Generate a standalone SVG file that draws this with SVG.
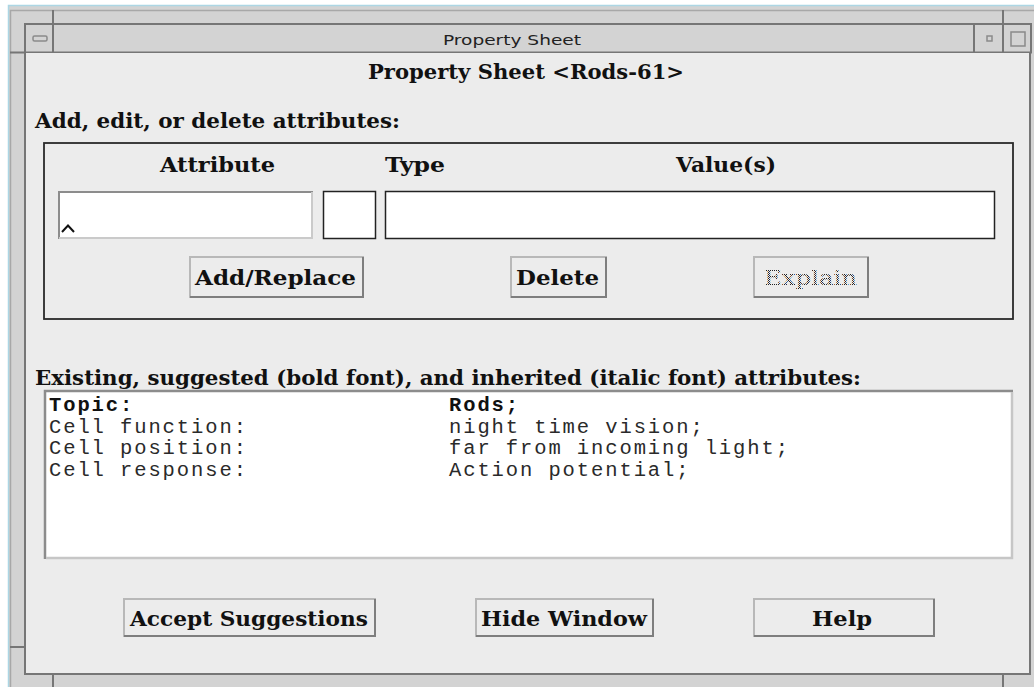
<svg xmlns="http://www.w3.org/2000/svg" width="1034" height="687" viewBox="0 0 1034 687">
<defs>
<pattern id="stipple" width="2" height="2" patternUnits="userSpaceOnUse">
<rect x="0" y="0" width="1" height="1" fill="#222"/>
<rect x="1" y="1" width="1" height="1" fill="#222"/>
</pattern>
</defs>
<style>
.serif{font-family:"DejaVu Serif","Liberation Serif",serif;font-weight:bold;font-size:21px;fill:#111}
.mono{font-family:"Liberation Mono","DejaVu Sans Mono",monospace;font-size:20.5px;letter-spacing:1.9px;fill:#2a2a2a}
.monob{font-family:"Liberation Mono","DejaVu Sans Mono",monospace;font-size:20.5px;letter-spacing:1.9px;font-weight:bold;fill:#111}
.btn{fill:#ececec;stroke:#b8b8b8;stroke-width:2}
.btnsh{fill:none;stroke:#7e7e7e;stroke-width:2}
.fl{stroke:#a8a8a8;stroke-width:1.5;fill:none}
.dk{stroke:#767676;stroke-width:2;fill:none}
.ic{stroke:#8a8a8a;stroke-width:1.5;fill:none}
</style>
<g id="window-frame">
<rect x="0" y="0" width="1034" height="687" fill="#ffffff"/>
<rect x="8" y="5" width="1026" height="682" fill="#d3d3d3"/>
<path d="M8.5 687 V5.5 H1034" stroke="#acd6e4" stroke-width="1.5" fill="none"/>
<path d="M10.5 687 V10.5 H1034" class="fl"/>
<line x1="53" y1="10" x2="53" y2="23" class="dk"/>
<line x1="1003" y1="10" x2="1003" y2="23" class="dk"/>
<line x1="10" y1="647" x2="24" y2="647" class="dk"/>
<line x1="53" y1="675" x2="53" y2="687" class="dk"/>
<line x1="1003" y1="675" x2="1003" y2="687" class="dk"/>
</g>
<g id="title-bar">
<rect x="24" y="23" width="1008" height="29" fill="#d3d3d3"/>
<path d="M24 24 H1032" class="dk"/>
<path d="M10 52.5 H1032" class="dk"/>
<line x1="53" y1="23" x2="53" y2="52" class="dk"/>
<line x1="974" y1="23" x2="974" y2="52" class="dk"/>
<line x1="1003" y1="23" x2="1003" y2="52" class="dk"/>
<line x1="1031" y1="23" x2="1031" y2="52" class="dk"/>
<rect x="33" y="36" width="14" height="5" rx="1.5" fill="#dcdcdc" class="ic"/>
<rect x="987" y="36" width="5" height="5" class="ic"/>
<rect x="1011" y="32" width="14" height="14" class="ic"/>
<text x="512" y="45" text-anchor="middle" textLength="138" lengthAdjust="spacingAndGlyphs" font-family="DejaVu Sans, Liberation Sans, sans-serif" font-size="14" fill="#222">Property Sheet</text>
</g>
<g id="content">
<rect x="26" y="53" width="1003" height="620" fill="#ececec"/>
<line x1="25" y1="23" x2="25" y2="675" class="dk"/>
<line x1="24" y1="674" x2="1031" y2="674" class="dk"/>
<line x1="1030" y1="52" x2="1030" y2="675" class="dk"/>
<text class="serif" x="526" y="79" text-anchor="middle" textLength="316" lengthAdjust="spacingAndGlyphs">Property Sheet &lt;Rods-61&gt;</text>
<text class="serif" x="35" y="128" textLength="365" lengthAdjust="spacingAndGlyphs">Add, edit, or delete attributes:</text>
</g>
<g id="edit-group">
<rect x="44" y="143" width="969" height="176" fill="none" stroke="#2a2a2a" stroke-width="1.8"/>
<text class="serif" x="217.5" y="172" text-anchor="middle" textLength="115" lengthAdjust="spacingAndGlyphs">Attribute</text>
<text class="serif" x="385" y="172" textLength="60" lengthAdjust="spacingAndGlyphs">Type</text>
<text class="serif" x="726" y="172" text-anchor="middle" textLength="100" lengthAdjust="spacingAndGlyphs">Value(s)</text>
</g>
<g id="attribute-input">
<rect x="58" y="191" width="255" height="48" fill="#ffffff"/>
<path d="M59 239 V192 H313" stroke="#8c8c8c" stroke-width="2" fill="none"/>
<path d="M59 238 H312 V192" stroke="#cacaca" stroke-width="2" fill="none"/>
<polyline points="62,232 68,225.5 74,232" fill="none" stroke="#111" stroke-width="2"/>
</g>
<g id="type-input">
<rect x="323.5" y="191.5" width="52" height="47" fill="#ffffff" stroke="#222" stroke-width="1.5"/>
</g>
<g id="value-input">
<rect x="385.5" y="191.5" width="609" height="47" fill="#ffffff" stroke="#222" stroke-width="1.5"/>
</g>
<g id="btn-add-replace">
<rect x="190" y="257" width="173" height="40" class="btn"/>
<path d="M190 297 H363 V257" class="btnsh"/>
<text class="serif" x="275.5" y="285" text-anchor="middle" textLength="161" lengthAdjust="spacingAndGlyphs">Add/Replace</text>
</g>
<g id="btn-delete">
<rect x="511" y="257" width="95" height="40" class="btn"/>
<path d="M511 297 H606 V257" class="btnsh"/>
<text class="serif" x="557.5" y="285" text-anchor="middle" textLength="83" lengthAdjust="spacingAndGlyphs">Delete</text>
</g>
<g id="btn-explain">
<rect x="754" y="257" width="114" height="40" class="btn"/>
<path d="M754 297 H868 V257" class="btnsh"/>
<text x="810.5" y="285" text-anchor="middle" textLength="93" lengthAdjust="spacingAndGlyphs" font-family="DejaVu Serif, Liberation Serif, serif" font-size="21" fill="url(#stipple)">Explain</text>
</g>
<g id="list-label">
<text class="serif" x="35" y="385" textLength="826" lengthAdjust="spacingAndGlyphs">Existing, suggested (bold font), and inherited (italic font) attributes:</text>
</g>
<g id="attribute-list">
<rect x="44" y="390" width="969" height="169" fill="#ffffff"/>
<path d="M45 559 V391 H1013" stroke="#8c8c8c" stroke-width="2.5" fill="none"/>
<path d="M46 558 H1012 V392" stroke="#c6c6c6" stroke-width="2.5" fill="none"/>
<text class="monob" x="49" y="411">Topic:</text>
<text class="monob" x="449" y="411">Rods;</text>
<text class="mono" x="49" y="433">Cell function:</text>
<text class="mono" x="449" y="433">night time vision;</text>
<text class="mono" x="49" y="454">Cell position:</text>
<text class="mono" x="449" y="454">far from incoming light;</text>
<text class="mono" x="49" y="476">Cell response:</text>
<text class="mono" x="449" y="476">Action potential;</text>
</g>
<g id="btn-accept">
<rect x="124" y="599" width="251" height="37" class="btn"/>
<path d="M124 636 H375 V599" class="btnsh"/>
<text class="serif" x="249" y="626" text-anchor="middle" textLength="238" lengthAdjust="spacingAndGlyphs">Accept Suggestions</text>
</g>
<g id="btn-hide">
<rect x="476" y="599" width="177" height="37" class="btn"/>
<path d="M476 636 H653 V599" class="btnsh"/>
<text class="serif" x="564" y="626" text-anchor="middle" textLength="166" lengthAdjust="spacingAndGlyphs">Hide Window</text>
</g>
<g id="btn-help">
<rect x="754" y="599" width="180" height="37" class="btn"/>
<path d="M754 636 H934 V599" class="btnsh"/>
<text class="serif" x="842" y="626" text-anchor="middle" textLength="60" lengthAdjust="spacingAndGlyphs">Help</text>
</g>
<g id="connectors"></g>
</svg>
